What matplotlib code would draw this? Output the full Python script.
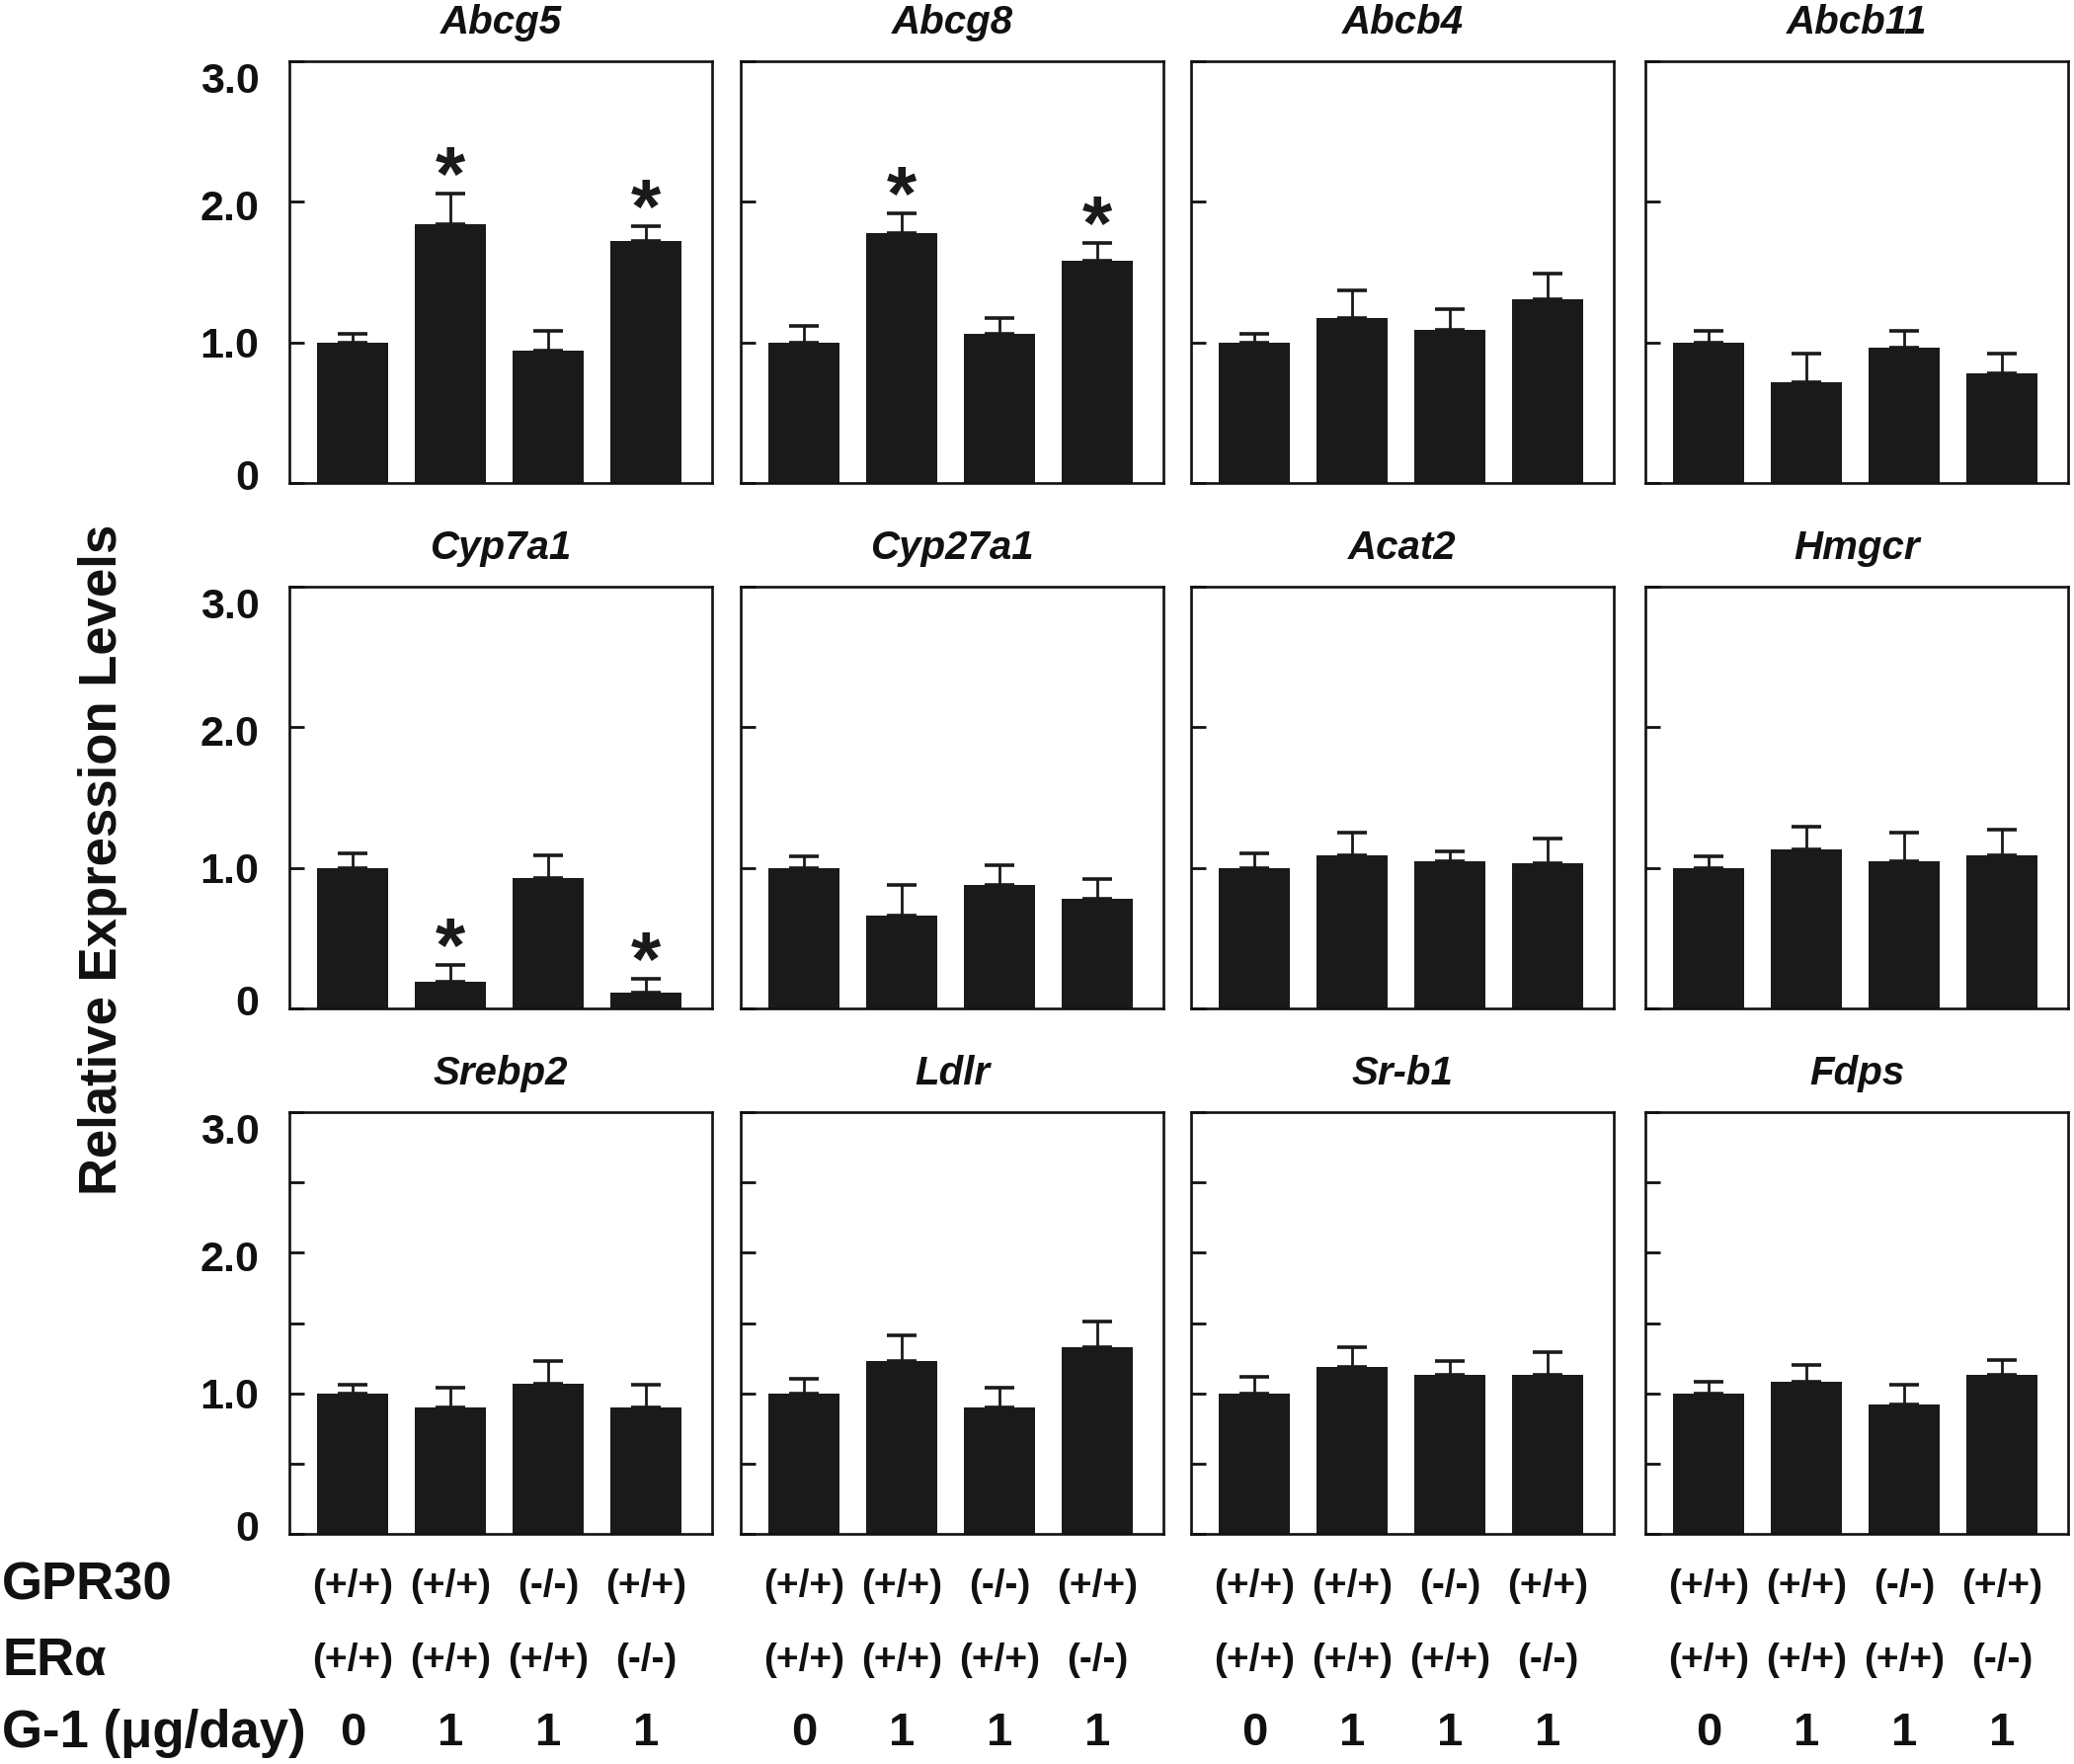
import matplotlib
matplotlib.use("Agg")
import matplotlib.pyplot as plt
from matplotlib.transforms import blended_transform_factory, ScaledTranslation
from matplotlib import font_manager

# ---------------- data ----------------
genes = ["Abcg5", "Abcg8", "Abcb4", "Abcb11",
         "Cyp7a1", "Cyp27a1", "Acat2", "Hmgcr",
         "Srebp2", "Ldlr", "Sr-b1", "Fdps"]

abcg5 = [1.00, 1.84, 0.94, 1.72]
abcg8 = [1.00, 1.78, 1.06, 1.58]
abcb4 = [1.00, 1.17, 1.09, 1.31]
abcb11 = [1.00, 0.72, 0.96, 0.78]
cyp7a1 = [1.00, 0.19, 0.93, 0.11]
cyp27a1 = [1.00, 0.66, 0.88, 0.78]
acat2 = [1.00, 1.09, 1.05, 1.03]
hmgcr = [1.00, 1.13, 1.05, 1.09]
srebp2 = [1.00, 0.90, 1.07, 0.90]
ldlr = [1.00, 1.23, 0.90, 1.33]
srb1 = [1.00, 1.19, 1.13, 1.13]
fdps = [1.00, 1.08, 0.92, 1.13]

abcg5_sem = [0.06, 0.22, 0.14, 0.11]
abcg8_sem = [0.12, 0.14, 0.11, 0.13]
abcb4_sem = [0.06, 0.20, 0.15, 0.18]
abcb11_sem = [0.08, 0.20, 0.12, 0.14]
cyp7a1_sem = [0.10, 0.12, 0.16, 0.10]
cyp27a1_sem = [0.08, 0.22, 0.14, 0.14]
acat2_sem = [0.10, 0.16, 0.07, 0.18]
hmgcr_sem = [0.08, 0.16, 0.20, 0.18]
srebp2_sem = [0.06, 0.14, 0.16, 0.16]
ldlr_sem = [0.10, 0.18, 0.14, 0.18]
srb1_sem = [0.12, 0.14, 0.10, 0.16]
fdps_sem = [0.08, 0.12, 0.14, 0.11]

sig_abcg5 = [False, True, False, True]
sig_abcg8 = [False, True, False, True]
sig_cyp7a1 = [False, True, False, True]
sig_none = [False, False, False, False]

gpr30_labels = ["(+/+)", "(+/+)", "(-/-)", "(+/+)"]
era_labels = ["(+/+)", "(+/+)", "(+/+)", "(-/-)"]
g1_labels = ["0", "1", "1", "1"]

row_labels = ["GPR30", "ER\u03b1", "G-1 (\u03bcg/day)"]
ylabel = "Relative Expression Levels"

means = [abcg5, abcg8, abcb4, abcb11, cyp7a1, cyp27a1,
         acat2, hmgcr, srebp2, ldlr, srb1, fdps]
sems = [abcg5_sem, abcg8_sem, abcb4_sem, abcb11_sem, cyp7a1_sem, cyp27a1_sem,
        acat2_sem, hmgcr_sem, srebp2_sem, ldlr_sem, srb1_sem, fdps_sem]
sigs = [sig_abcg5, sig_abcg8, sig_none, sig_none, sig_cyp7a1, sig_none,
        sig_none, sig_none, sig_none, sig_none, sig_none, sig_none]

# ---------------- style ----------------
avail = {f.name for f in font_manager.fontManager.ttflist}
MAIN = ["Liberation Sans", "Arial", "DejaVu Sans"]
NARROW = (["Liberation Sans Narrow"] if "Liberation Sans Narrow" in avail else []) + MAIN
plt.rcParams["font.family"] = MAIN
plt.rcParams["font.weight"] = "bold"

BAR = "#1a1a1a"
W, H = 2100, 1786
fig = plt.figure(figsize=(W / 100, H / 100), dpi=100)

col_left = [293, 750, 1206, 1666]
row_top = [62, 594, 1126]
aw, ah = 428, 427

# vertical nudges (pixels) of y tick labels, as in the original artwork
label_nudge = {"0": 9, "1.0": 0, "2.0": -3, "3.0": -16}

x = [0, 1, 2, 3]
axes = []
for idx, gene in enumerate(genes):
    r, c = divmod(idx, 4)
    ax = fig.add_axes([col_left[c] / W, 1 - (row_top[r] + ah) / H, aw / W, ah / H])
    axes.append(ax)
    m = means[idx]
    s = sems[idx]
    ax.bar(x, m, width=0.73, color=BAR, edgecolor=BAR, linewidth=0, zorder=2)
    ax.errorbar(x, m, yerr=[[0] * 4, s], fmt="none", ecolor=BAR,
                elinewidth=2.0, capsize=11, capthick=2.6, zorder=1)
    for i in range(4):
        if sigs[idx][i]:
            ax.annotate("*", xy=(i, m[i] + s[i]), xytext=(0, -5),
                        textcoords="offset points", ha="center", va="baseline",
                        fontsize=56, fontweight="bold", color=BAR)
    ax.set_xlim(-0.65, 3.68)
    ax.set_ylim(0, 3.0)
    ax.set_xticks([])
    if r == 2:
        ax.set_yticks([0, 0.5, 1.0, 1.5, 2.0, 2.5, 3.0])
        lbls = ["0", "", "1.0", "", "2.0", "", "3.0"]
    else:
        ax.set_yticks([0, 1.0, 2.0, 3.0])
        lbls = ["0", "1.0", "2.0", "3.0"]
    if c == 0:
        ax.set_yticklabels(lbls)
    else:
        ax.set_yticklabels([])
    ax.tick_params(axis="y", direction="in", length=11, width=2.0,
                   pad=22, labelsize=31, colors="#111111")
    if c == 0:
        for t in ax.get_yticklabels():
            d = label_nudge.get(t.get_text(), 0)
            if d:
                t.set_transform(t.get_transform() +
                                ScaledTranslation(0, d / 100, fig.dpi_scale_trans))
    for sp in ax.spines.values():
        sp.set_linewidth(1.9)
        sp.set_color("#111111")
    ax.text(0.5, 1 + 28 / ah, gene, transform=ax.transAxes, ha="center",
            va="baseline", fontsize=29, fontweight="bold", style="italic",
            color="#111111")

# group labels under the bottom row
label_rows_y = [1606, 1681, 1755]
for c in range(4):
    ax = axes[8 + c]
    tr = blended_transform_factory(ax.transData, fig.transFigure)
    for i in range(4):
        ax.text(x[i], 1 - label_rows_y[0] / H, gpr30_labels[i], transform=tr,
                ha="center", va="center", fontsize=28, fontweight="bold",
                family=NARROW, color="#111111")
        ax.text(x[i], 1 - label_rows_y[1] / H, era_labels[i], transform=tr,
                ha="center", va="center", fontsize=28, fontweight="bold",
                family=NARROW, color="#111111")
        ax.text(x[i], 1 - label_rows_y[2] / H, g1_labels[i], transform=tr,
                ha="center", va="center", fontsize=34, fontweight="bold",
                color="#111111")

for j, lab in enumerate(row_labels):
    fig.text(2 / W, 1 - label_rows_y[j] / H, lab, ha="left", va="center",
             fontsize=38, fontweight="bold", color="#111111")

fig.text(104 / W, 1 - 870 / H, ylabel, rotation=90, ha="center", va="center",
         fontsize=38, fontweight="bold", color="#111111")

fig.savefig("out.png", dpi=100, facecolor="white")
